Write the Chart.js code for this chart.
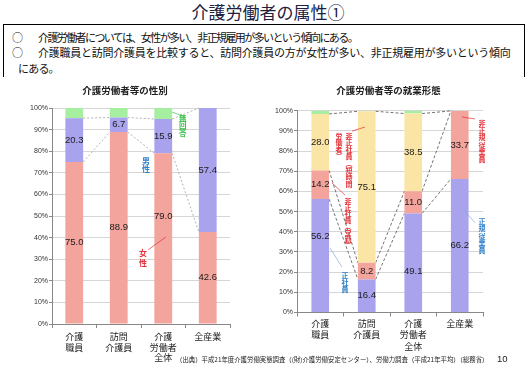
<!DOCTYPE html>
<html>
<head>
<meta charset="utf-8">
<script src="https://cdn.jsdelivr.net/npm/chart.js@4.4.1/dist/chart.umd.min.js"></script>
<style>
  body { margin: 0; background: #fff; width: 532px; height: 368px; overflow: hidden; position: relative;
         font-family: "Noto Sans CJK JP", sans-serif; }
  #title { position: absolute; top: 0; left: 0; width: 536px; text-align: center; font-size: 17px; color: #202040; line-height: 24px; }
  #box { position: absolute; left: 3px; top: 24px; width: 520px; height: 52px; border: 1px solid #000; border-bottom: none; }
  .ln { position: absolute; font-size: 11px; color: #111; white-space: nowrap; line-height: 14px; }
  canvas { position: absolute; }
  #src { position: absolute; left: 176px; top: 355px; font-size: 6.4px; color: #222; white-space: nowrap; }
  #pg { position: absolute; left: 497px; top: 353px; font-size: 9.5px; color: #222; font-family: "Liberation Sans", Arial, sans-serif; }
</style>
</head>
<body>
<div id="title">介護労働者の属性①</div>
<div id="box"></div>
<div class="ln" style="left:12px;top:30px">○</div>
<div class="ln" style="left:38px;top:30px;letter-spacing:-1.6px">介護労働者については、女性が多い、非正規雇用が多いという傾向にある。</div>
<div class="ln" style="left:12px;top:45px">○</div>
<div class="ln" style="left:38px;top:45px;letter-spacing:-0.25px">介護職員と訪問介護員を比較すると、訪問介護員の方が女性が多い、非正規雇用が多いという傾向</div>
<div class="ln" style="left:18px;top:61px;letter-spacing:-0.8px">にある。</div>
<canvas id="sexChart" width="240" height="290" style="left:0;top:78px"></canvas>
<canvas id="workChart" width="230" height="290" style="left:262px;top:78px"></canvas>
<div id="src">（出典）平成21年度介護労働実態調査（(財)介護労働安定センター）、労働力調査（平成21年平均）（総務省）</div>
<div id="pg">10</div>
<script>
// データ
const categories = [['介護', '職員'], ['訪問', '介護員'], ['介護', '労働者', '全体'], '全産業'];
const percentTicks = [0, 10, 20, 30, 40, 50, 60, 70, 80, 90, 100];

// 性別
const female = [75.0, 88.9, 79.0, 42.6];
const male = [20.3, 6.7, 15.9, 57.4];
const noAnswerSex = [4.7, 4.4, 5.1, 0];

// 就業形態
const regular = [56.2, 16.4, 49.1, 66.2];
const nonRegularFull = [14.2, 8.2, 11.0, 33.7];
const nonRegularPart = [28.0, 75.1, 38.5, 0];
const noAnswerWork = [1.6, 0.3, 1.4, 0.1];

const PINK = '#F3A49C', LAV = '#A9A3EE', GREEN = '#A6EFA0', YELLOW = '#FBE5A6';
const RED = '#e3323a', BLUE = '#2f7fc8', LBLUE = '#86acd8', GRN = '#3dbf4a';
const JP = '"Noto Sans CJK JP", sans-serif';

// 棒の中の数値
const barLabels = {
  id: 'barLabels',
  afterDatasetsDraw(chart, args, opts) {
    const ctx = chart.ctx, y = chart.scales.y;
    const unit = y.getPixelForValue(0) - y.getPixelForValue(1);
    ctx.save();
    ctx.font = '9.5px "Liberation Sans", Arial, sans-serif';
    ctx.fillStyle = '#1a1a1a';
    ctx.textAlign = 'center';
    ctx.textBaseline = 'middle';
    chart.data.datasets.forEach((ds, d) => {
      if (ds.noLabel) return;
      chart.getDatasetMeta(d).data.forEach((bar, i) => {
        const v = ds.data[i];
        if (v < 2) return;
        const shift = (opts.shift || {})[d + '-' + i] || 0;
        ctx.fillText(v.toFixed(1), bar.x, (bar.y + bar.base) / 2 - shift * unit);
      });
    });
    ctx.restore();
  }
};

// 区分線
const seriesLines = {
  id: 'seriesLines',
  beforeDatasetsDraw(chart, args, opts) {
    const ctx = chart.ctx;
    ctx.save();
    ctx.strokeStyle = opts.color;
    ctx.lineWidth = 0.8;
    ctx.setLineDash(opts.dash);
    for (let d = 0; d < chart.data.datasets.length - 1; d++) {
      const bars = chart.getDatasetMeta(d).data;
      for (let i = 0; i < bars.length - 1; i++) {
        const a = bars[i], b = bars[i + 1];
        ctx.beginPath();
        ctx.moveTo(a.x + a.width / 2, a.y);
        ctx.lineTo(b.x - b.width / 2, b.y);
        ctx.stroke();
      }
    }
    ctx.restore();
  }
};

// 縦書きの注記
const notes = {
  id: 'notes',
  afterDatasetsDraw(chart, args, opts) {
    const ctx = chart.ctx, xs = chart.scales.x, ys = chart.scales.y;
    ctx.save();
    ctx.textAlign = 'center';
    ctx.textBaseline = 'middle';
    (opts.items || []).forEach(n => {
      if (n.leader) {
        ctx.strokeStyle = n.lineColor || n.color;
        ctx.lineWidth = 0.7;
        ctx.beginPath();
        ctx.moveTo(xs.getPixelForValue(n.leader[0]), ys.getPixelForValue(n.leader[1]));
        ctx.lineTo(xs.getPixelForValue(n.leader[2]), ys.getPixelForValue(n.leader[3]));
        ctx.stroke();
      }
      if (!n.text) return;
      ctx.font = 'bold ' + n.size + 'px ' + JP;
      ctx.fillStyle = n.color;
      const x = xs.getPixelForValue(n.cat), y0 = ys.getPixelForValue(n.val);
      Array.from(n.text).forEach((c, k) => ctx.fillText(c, x, y0 + k * n.step));
    });
    ctx.restore();
  }
};

// グラフ見出し
const caption = {
  id: 'caption',
  afterDraw(chart, args, opts) {
    const ctx = chart.ctx, a = chart.chartArea;
    ctx.save();
    ctx.font = 'bold 9.5px ' + JP;
    ctx.fillStyle = '#222';
    ctx.textAlign = 'center';
    ctx.textBaseline = 'middle';
    ctx.fillText(opts.text, (a.left + a.right) / 2 + opts.dx, opts.y);
    ctx.restore();
  }
};

function makeOptions(o) {
  return {
    responsive: false,
    animation: false,
    layout: { padding: { left: o.padLeft, right: o.padRight, top: o.padTop, bottom: 0 } },
    plugins: {
      legend: { display: false },
      tooltip: { enabled: false },
      caption: o.caption,
      barLabels: { shift: o.shift },
      seriesLines: o.lines,
      notes: { items: o.notes }
    },
    scales: {
      x: {
        stacked: true,
        grid: { display: true, drawOnChartArea: false, drawTicks: true, tickLength: 4, color: '#888', offset: true },
        border: { color: '#888' },
        ticks: { font: { family: JP, size: 9, lineHeight: o.lineHeight }, color: '#222', padding: o.xPad, maxRotation: 0, autoSkip: false },
        afterFit: s => { s.height = o.xHeight; }
      },
      y: {
        stacked: true,
        min: 0, max: 100,
        afterBuildTicks: s => { s.ticks = percentTicks.map(v => ({ value: v })); },
        grid: { color: '#d6d6d6', tickLength: 3, tickColor: '#888' },
        border: { color: '#888' },
        ticks: { font: { family: '"Liberation Sans", Arial, sans-serif', size: 7 }, color: '#333', padding: 1, callback: v => v + '%' },
        afterFit: s => { s.width = o.yWidth; }
      }
    }
  };
}

new Chart(document.getElementById('sexChart'), {
  type: 'bar',
  data: {
    labels: categories,
    datasets: [
      { label: '女性', data: female, backgroundColor: PINK },
      { label: '男性', data: male, backgroundColor: LAV },
      { label: '無回答', data: noAnswerSex, backgroundColor: GREEN, noLabel: true }
    ].map(d => Object.assign(d, { barPercentage: 0.4, categoryPercentage: 1 }))
  },
  options: makeOptions({
    padLeft: 20, padRight: 10, padTop: 30, yWidth: 32, xHeight: 44, xPad: 3, lineHeight: 1.2,
    caption: { text: '介護労働者等の性別', dx: -16, y: 12 },
    shift: { '0-2': 10 },
    lines: { color: '#a0a0a0', dash: [2, 2] },
    notes: [
      { text: '女性', cat: 1.545, val: 32.9, size: 8, step: 10, color: RED, leader: [1.66, 34.3, 2.06, 40.3] },
      { text: '男性', cat: 1.61, val: 75.5, size: 8, step: 8.5, color: BLUE },
      { text: '無回答', cat: 2.44, val: 95.5, size: 7.5, step: 7.7, color: GRN, leader: [2.2, 98.1, 2.37, 96.8] }
    ]
  }),
  plugins: [seriesLines, barLabels, notes, caption]
});

new Chart(document.getElementById('workChart'), {
  type: 'bar',
  data: {
    labels: categories,
    datasets: [
      { label: '正社員', data: regular, backgroundColor: LAV },
      { label: '非正社員（常勤）', data: nonRegularFull, backgroundColor: PINK },
      { label: '非正社員（短時間労働者）', data: nonRegularPart, backgroundColor: YELLOW },
      { label: '無回答', data: noAnswerWork, backgroundColor: GREEN, noLabel: true }
    ].map(d => Object.assign(d, { barPercentage: 0.38, categoryPercentage: 1 }))
  },
  options: makeOptions({
    padLeft: 11, padRight: 9, padTop: 32.7, yWidth: 24, xHeight: 55.5, xPad: 1, lineHeight: 1.3,
    caption: { text: '介護労働者等の就業形態', dx: -1.5, y: 12 },
    shift: { '0-0': 9.7, '0-2': -4.5 },
    lines: { color: '#505050', dash: [3, 2] },
    notes: [
      { text: '非正社員︵短時間', cat: 0.618, val: 87.5, size: 7, step: 6.9, color: RED, leader: [0.683, 89.9, 0.962, 91.9] },
      { text: '労働者︶', cat: 0.403, val: 87.5, size: 7, step: 6.9, color: RED },
      { text: '非正社員︵常勤︶', cat: 0.597, val: 55.3, size: 7, step: 6.4, color: RED, leader: [0.253, 64.2, 0.532, 58.2] },
      { text: '正社員', cat: 0.532, val: 18.6, size: 7, step: 7.2, color: BLUE, lineColor: LBLUE, leader: [0.21, 32, 0.468, 22.5] },
      { text: '非正規従業員', cat: 3.478, val: 93.7, size: 7, step: 7.2, color: RED, leader: [3.048, 96.9, 3.328, 95.9] },
      { text: '正規従業員', cat: 3.478, val: 45.1, size: 7, step: 7.2, color: BLUE, lineColor: LBLUE, leader: [3.048, 51.8, 3.328, 44.4] }
    ]
  }),
  plugins: [seriesLines, barLabels, notes, caption]
});
</script>
</body>
</html>
